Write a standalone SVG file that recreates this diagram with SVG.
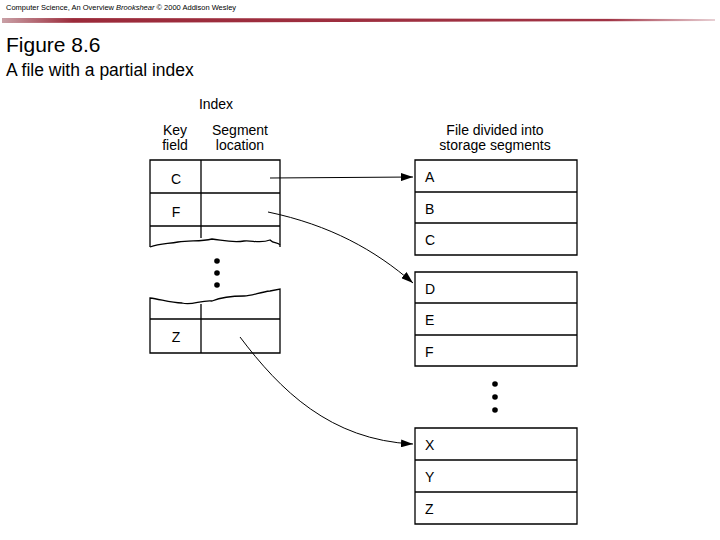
<svg xmlns="http://www.w3.org/2000/svg" width="720" height="540" viewBox="0 0 720 540">
<defs>
<linearGradient id="bar" x1="0" x2="1" y1="0" y2="0"><stop offset="0" stop-color="#c9a0a6"/><stop offset="0.1" stop-color="#9b2a3a"/><stop offset="0.85" stop-color="#a03344"/><stop offset="1" stop-color="#e8d0d4"/></linearGradient>
<marker id="ah" markerWidth="12" markerHeight="8" refX="12" refY="4" orient="auto" markerUnits="userSpaceOnUse"><path d="M0,0 L12,4 L0,8 Z" fill="#000"/></marker>
</defs>
<style>
.t{font-family:"Liberation Sans",Arial,sans-serif;fill:#000}
.c{fill:none;stroke:#000;stroke-width:1.3}
.l{font-family:"Liberation Sans",Arial,sans-serif;font-size:14px;fill:#000;text-anchor:middle}
.a{fill:none;stroke:#000;stroke-width:1;marker-end:url(#ah)}
</style>
<rect width="720" height="540" fill="#fff"/>
<text class="t" x="6" y="10" font-size="7.5">Computer Science, An Overview <tspan font-style="italic">Brookshear</tspan> © 2000 Addison Wesley</text>
<path d="M2,18 L715,19 L715,21 L2,23 Z" fill="url(#bar)"/>
<text class="t" x="6" y="52" font-size="21">Figure 8.6</text>
<text class="t" x="6" y="76" font-size="17.5">A file with a partial index</text>
<g id="index">
<text class="l" x="216" y="109" font-size="13">Index</text>
<text class="l" x="175" y="135">Key</text><text class="l" x="175" y="150">field</text>
<text class="l" x="240" y="135">Segment</text><text class="l" x="240" y="150">location</text>
<path class="c" d="M150,247 L150,160 L280,160 L280,247 M150,193 L280,193 M150,226 L280,226 M201,160 L201,238"/>
<path class="c" d="M150,247 C160,243 168,244 178,242 C190,240 200,242 212,239 C222,240 232,243 244,241 C252,240 260,244 270,240 C274,244 278,242 280,245"/>
<path class="c" d="M150,298 C160,299 170,303 182,303 C192,306 200,300 212,301 C222,297 232,296 244,296 C252,296 260,292 270,291 L280,289 L280,353 L150,353 Z M150,319 L280,319 M201,304 L201,353"/>
<text class="l" x="176" y="184">C</text>
<text class="l" x="176" y="217">F</text>
<text class="l" x="176" y="342">Z</text>
<circle cx="217" cy="261" r="2.8"/><circle cx="217" cy="273" r="2.8"/><circle cx="217" cy="285" r="2.8"/>
</g>
<g id="file">
<text class="l" x="495" y="135">File divided into</text>
<text class="l" x="495" y="150">storage segments</text>
<path class="c" d="M415,160 H577 V255 H415 Z M415,192 H577 M415,223 H577"/>
<path class="c" d="M415,272 H577 V366 H415 Z M415,303 H577 M415,335 H577"/>
<path class="c" d="M415,428 H577 V524 H415 Z M415,460 H577 M415,492 H577"/>
<text class="t" x="425" y="182" font-size="14">A</text>
<text class="t" x="425" y="214" font-size="14">B</text>
<text class="t" x="425" y="245" font-size="14">C</text>
<text class="t" x="425" y="294" font-size="14">D</text>
<text class="t" x="425" y="325" font-size="14">E</text>
<text class="t" x="425" y="357" font-size="14">F</text>
<text class="t" x="425" y="450" font-size="14">X</text>
<text class="t" x="425" y="482" font-size="14">Y</text>
<text class="t" x="425" y="514" font-size="14">Z</text>
<circle cx="495" cy="384" r="2.8"/><circle cx="495" cy="397" r="2.8"/><circle cx="495" cy="410" r="2.8"/>
</g>
<g id="connectors">
<path class="a" d="M270,178 L413,177"/>
<path class="a" d="M268,212 C330,225 375,250 413,283"/>
<path class="a" d="M240,337 C280,390 330,440 413,444"/>
</g>
</svg>
